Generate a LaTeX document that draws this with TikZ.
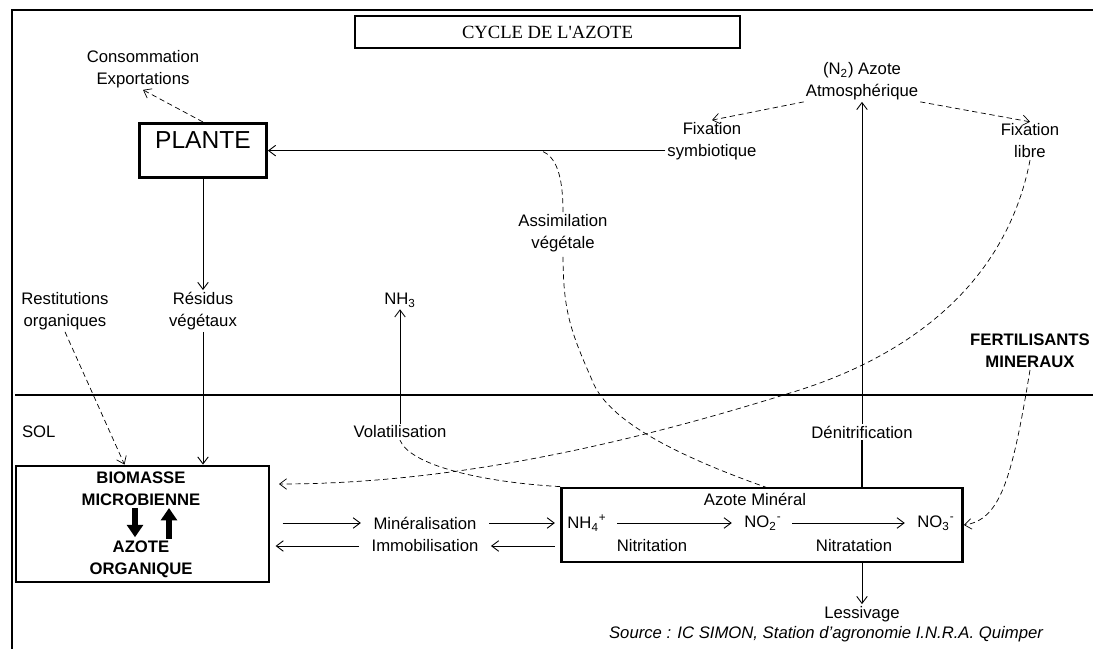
\documentclass[tikz,border=0pt]{standalone}
\usepackage{fontspec}
\setmainfont{Liberation Sans}
\newfontfamily\titrefont{Liberation Serif}
\usetikzlibrary{arrows.meta}
\begin{document}
\begin{tikzpicture}[x=0.02cm, y=-0.02cm, >={Straight Barb[length=4pt,width=6pt]},
    every node/.style={font=\fontsize{9.5}{12.5}\selectfont, align=center, inner sep=1pt},
    boite/.style={draw, line width=1.6pt},
    gras/.style={font=\fontsize{9.5}{12.5}\selectfont\bfseries},
    fleche/.style={->, line width=0.5pt},
    pointille/.style={densely dashed, line width=0.4pt},
    grosse/.style={-{Triangle[length=7pt,width=9pt]}, line width=3pt}]
    \useasboundingbox (0,0) rectangle (1093,649);
    % cadre et surface du sol
    \draw[line width=1.4pt] (12,649) -- (12,10) -- (1093,10);
    \draw[line width=1.4pt] (15,395) -- (1093,395);
    \node[boite, minimum width=7.7cm, minimum height=0.64cm, font=\fontsize{10.6}{12}\titrefont] (titre) at (547.5,32) {CYCLE DE L'AZOTE};
    % partie aerienne
    \node (conso) at (143,69) {Consommation\\Exportations};
    \node[boite, anchor=north, inner sep=0pt, minimum width=2.54cm, text height=14pt, text depth=17pt,
        font=\fontsize{14}{16}\selectfont] (plante) at (203,122) {PLANTE};
    \node (azote) at (862,81) {(N\textsubscript{2}) Azote\\Atmosphérique};
    \node (symb) at (712,141) {Fixation\\symbiotique};
    \node (libre) at (1030,141) {Fixation\\libre};
    \node (assim) at (563,233) {Assimilation\\végétale};
    \node (restit) at (65,311) {Restitutions\\organiques};
    \node (residus) at (203,311) {Résidus\\végétaux};
    \node (nh3) at (400,300) {NH\textsubscript{3}};
    \node[gras] (fertil) at (1030,351) {FERTILISANTS\\MINERAUX};
    % sol
    \node[anchor=west] (sol) at (20,432) {SOL};
    \node (volat) at (400,432) {Volatilisation};
    \node (denit) at (862,432) {Dénitrification};
    \node[boite, minimum width=5.06cm, minimum height=2.32cm] (biomasse) at (142.5,524) {};
    \node[gras] (bio1) at (141,478) {BIOMASSE};
    \node[gras] (bio2) at (141,500) {MICROBIENNE};
    \node[gras] (azo1) at (141,547) {AZOTE};
    \node[gras] (azo2) at (141,570) {ORGANIQUE};
    \node (minera) at (425,523) {Minéralisation};
    \node (immo) at (425,546) {Immobilisation};
    \node[boite, minimum width=8.02cm, minimum height=1.48cm] (mineral) at (762,525) {};
    \node (azmin) at (755,499) {Azote Minéral};
    \node (nh4) at (587,523) {NH\textsubscript{4}\textsuperscript{+}};
    \node (no2) at (763,523) {NO\textsubscript{2}\textsuperscript{-}};
    \node (no3) at (936,523) {NO\textsubscript{3}\textsuperscript{-}};
    \node (nitri) at (652,546) {Nitritation};
    \node (nitra) at (854,546) {Nitratation};
    \node (lessiv) at (862,614) {Lessivage};
    \node[font=\fontsize{9.5}{12.5}\selectfont\itshape] (source) at (826,634) {Source : IC SIMON, Station d'agronomie I.N.R.A. Quimper};
    \coordinate (m-assim) at (768,488);
    \coordinate (b-libre) at (279,484);
    % liaisons
    \draw[pointille, ->] (plante.north) -- (conso.south);
    \draw[fleche] (symb.west |- plante.east) -- (plante.east);
    \draw[pointille] (m-assim) .. controls (660,450) and (605,415) .. (592,380) .. controls (570,330) and (563,310) .. (assim.south);
    \draw[pointille] (assim.north) .. controls (563,175) and (556,157) .. (542,151);
    \draw[pointille, ->] (azote.south west) -- (symb.north);
    \draw[pointille, ->] (azote.south east) -- (libre.north);
    \draw[fleche] (denit.north) -- (azote.south);
    \draw[line width=0.8pt] (mineral.north -| denit) -- (denit.south);
    \draw[fleche] (plante.south) -- (residus.north);
    \draw[fleche] (residus.south) -- (residus.south |- biomasse.north);
    \draw[pointille, ->] (restit.south) -- ([xshift=-0.36cm]biomasse.north);
    \draw[fleche] (volat.north) -- (nh3.south);
    \draw[pointille] (mineral.north west) .. controls (480,482) and (410,465) .. (volat.south);
    \draw[pointille, ->] (libre.south) .. controls (1005,290) and (900,360) .. (790,393) .. controls (640,440) and (460,484) .. (b-libre);
    \draw[pointille, ->] (fertil.south) .. controls (1012,480) and (1000,520) .. (mineral.east);
    \draw[grosse] ([xshift=-0.12cm]bio2.south) -- ([xshift=-0.12cm, yshift=1pt]azo1.north);
    \draw[grosse] ([xshift=0.56cm]azo1.north) -- ([xshift=0.56cm]bio2.south);
    \draw[fleche, shorten <=7pt, shorten >=6pt] (biomasse.east |- minera) -- (minera);
    \draw[fleche, shorten <=6pt, shorten >=3pt] (minera) -- (mineral.west |- minera);
    \draw[fleche, shorten <=3pt, shorten >=6pt] (mineral.west |- immo) -- (immo);
    \draw[fleche, shorten <=6pt, shorten >=3pt] (immo) -- (biomasse.east |- immo);
    \draw[fleche, shorten <=5pt, shorten >=6pt] (nh4) -- (no2);
    \draw[fleche, shorten <=5pt, shorten >=6pt] (no2) -- (no3);
    \draw[fleche] (mineral.south -| lessiv) -- (lessiv.north);
\end{tikzpicture}
\end{document}
